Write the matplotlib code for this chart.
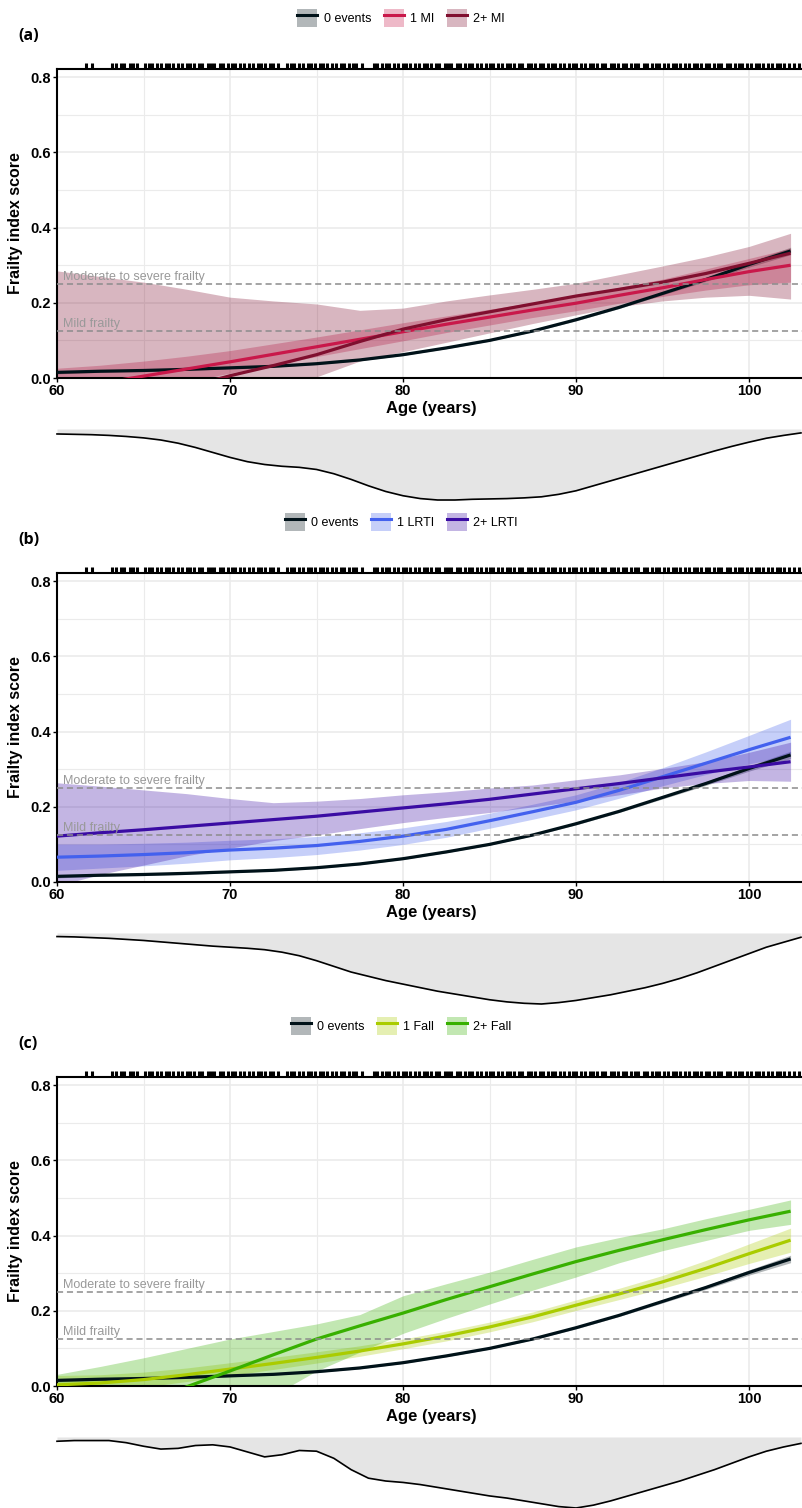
import numpy as np
import matplotlib
matplotlib.use("Agg")
import matplotlib.pyplot as plt
from matplotlib.patches import Patch
from matplotlib.lines import Line2D
from matplotlib.ticker import MultipleLocator, FormatStrFormatter

plt.rcParams['font.family'] = ['Liberation Sans', 'DejaVu Sans']

# fitted curves, read at these ages
ages = [60, 62.5, 65, 67.5, 70, 72.5, 75, 77.5, 80, 82.5, 85, 87.5, 90, 92.5, 95, 97.5, 100, 102.4]

none_fi = [0.015, 0.018, 0.020, 0.023, 0.027, 0.031, 0.038, 0.048, 0.062, 0.080, 0.100, 0.125,
           0.155, 0.188, 0.225, 0.262, 0.302, 0.338]
none_hw = [0.004, 0.003, 0.003, 0.003, 0.002, 0.002, 0.002, 0.002, 0.002, 0.002, 0.002, 0.002,
           0.003, 0.003, 0.004, 0.005, 0.007, 0.010]

# (a) MI
mi1_fi = [-0.030, -0.014, 0.005, 0.024, 0.043, 0.063, 0.083, 0.103, 0.123, 0.143, 0.162, 0.181,
          0.199, 0.220, 0.240, 0.262, 0.283, 0.300]
mi1_hw = [0.056, 0.048, 0.040, 0.034, 0.030, 0.028, 0.026, 0.025, 0.024, 0.022, 0.021, 0.020,
          0.020, 0.021, 0.023, 0.028, 0.035, 0.045]
mi2_fi = [-0.120, -0.090, -0.057, -0.025, 0.006, 0.033, 0.062, 0.097, 0.130, 0.155, 0.176, 0.197,
          0.218, 0.236, 0.255, 0.278, 0.305, 0.332]
mi2_hi = [0.285, 0.270, 0.255, 0.236, 0.215, 0.205, 0.197, 0.180, 0.186, 0.205, 0.221, 0.236,
          0.252, 0.275, 0.298, 0.322, 0.350, 0.385]
mi2_lo = [-0.200, -0.160, -0.120, -0.080, -0.045, -0.020, 0.003, 0.045, 0.070, 0.095, 0.120, 0.145,
          0.168, 0.190, 0.205, 0.215, 0.220, 0.210]

# (b) LRTI
lrti1_fi = [0.066, 0.069, 0.073, 0.078, 0.085, 0.090, 0.097, 0.108, 0.122, 0.140, 0.163, 0.187,
            0.212, 0.244, 0.280, 0.316, 0.352, 0.385]
lrti1_hw = [0.035, 0.032, 0.030, 0.028, 0.026, 0.025, 0.024, 0.023, 0.022, 0.021, 0.020, 0.020,
            0.020, 0.021, 0.024, 0.030, 0.038, 0.048]
lrti2_fi = [0.122, 0.131, 0.139, 0.148, 0.157, 0.166, 0.175, 0.186, 0.197, 0.208, 0.220, 0.234,
            0.248, 0.262, 0.277, 0.292, 0.306, 0.320]
lrti2_hi = [0.264, 0.255, 0.245, 0.235, 0.222, 0.211, 0.215, 0.222, 0.232, 0.240, 0.250, 0.258,
            0.272, 0.285, 0.302, 0.320, 0.345, 0.372]
lrti2_lo = [-0.010, 0.020, 0.045, 0.070, 0.090, 0.110, 0.125, 0.142, 0.158, 0.172, 0.185, 0.200,
            0.215, 0.232, 0.250, 0.262, 0.270, 0.268]

# (c) falls
fall1_fi = [0.003, 0.008, 0.017, 0.030, 0.045, 0.060, 0.076, 0.093, 0.112, 0.133, 0.157, 0.184,
            0.215, 0.245, 0.277, 0.313, 0.352, 0.388]
fall1_hw = [0.025, 0.022, 0.020, 0.018, 0.017, 0.016, 0.015, 0.014, 0.013, 0.013, 0.013, 0.013,
            0.014, 0.015, 0.017, 0.021, 0.026, 0.032]
fall2_fi = [-0.130, -0.090, -0.045, -0.002, 0.040, 0.083, 0.125, 0.160, 0.194, 0.230, 0.264, 0.298,
            0.331, 0.361, 0.389, 0.416, 0.442, 0.465]
fall2_hi = [0.031, 0.052, 0.075, 0.100, 0.125, 0.145, 0.165, 0.190, 0.240, 0.272, 0.303, 0.337,
            0.370, 0.395, 0.418, 0.445, 0.470, 0.495]
fall2_lo = [-0.300, -0.250, -0.200, -0.140, -0.090, -0.025, 0.040, 0.090, 0.140, 0.180, 0.218, 0.255,
            0.290, 0.328, 0.360, 0.387, 0.414, 0.430]

# age distribution (density, scaled to 1) under each panel
dens_ages = [60, 61, 62, 63, 64, 65, 66, 67, 68, 69, 70, 71, 72, 73, 74, 75, 76, 77, 78, 79, 80,
             81, 82, 83, 84, 85, 86, 87, 88, 89, 90, 91, 92, 93, 94, 95, 96, 97, 98, 99, 100,
             101, 102, 103]
dens_a = [0.07, 0.075, 0.08, 0.09, 0.105, 0.125, 0.155, 0.20, 0.26, 0.33, 0.40, 0.46, 0.50, 0.525,
          0.54, 0.57, 0.63, 0.71, 0.80, 0.88, 0.94, 0.98, 1.00, 1.00, 0.99, 0.985, 0.98, 0.97,
          0.955, 0.92, 0.87, 0.80, 0.73, 0.66, 0.59, 0.52, 0.45, 0.38, 0.31, 0.245, 0.185, 0.13,
          0.09, 0.055]
dens_b = [0.05, 0.055, 0.065, 0.075, 0.09, 0.105, 0.125, 0.145, 0.165, 0.185, 0.20, 0.215, 0.235,
          0.27, 0.32, 0.39, 0.47, 0.55, 0.61, 0.67, 0.72, 0.77, 0.82, 0.86, 0.90, 0.94, 0.97, 0.99,
          1.00, 0.98, 0.95, 0.91, 0.87, 0.82, 0.77, 0.71, 0.64, 0.56, 0.47, 0.38, 0.29, 0.20, 0.13,
          0.06]
dens_c = [0.06, 0.05, 0.05, 0.05, 0.08, 0.13, 0.17, 0.16, 0.12, 0.11, 0.14, 0.21, 0.28, 0.25, 0.19,
          0.20, 0.30, 0.46, 0.58, 0.62, 0.64, 0.67, 0.71, 0.75, 0.79, 0.83, 0.86, 0.90, 0.94, 0.98,
          1.00, 0.96, 0.90, 0.83, 0.76, 0.69, 0.62, 0.54, 0.46, 0.37, 0.28, 0.20, 0.14, 0.09]

rug_ages = [61.7, 62.0, 63.2, 63.4, 63.7, 63.9, 64.2, 64.4, 64.6, 65.1, 65.3, 65.5, 65.8, 66.0, 66.3,
            66.5, 66.7, 67.0, 67.2, 67.5, 67.7, 67.9, 68.2, 68.4, 68.7, 68.9, 69.1, 69.4, 69.6, 69.9,
            70.1, 70.3, 70.6, 70.8, 71.1, 71.3, 71.6, 71.8, 72.0, 72.3, 72.5, 72.8, 73.3, 73.5, 73.7,
            74.0, 74.2, 74.5, 74.7, 74.9, 75.2, 75.4, 75.6, 75.9, 76.1, 76.4, 76.6, 76.9, 77.1, 77.3,
            77.6, 78.3, 78.5, 78.8, 79.0, 79.2, 79.5, 79.7, 80.0, 80.2, 80.4, 80.7, 80.9, 81.2, 81.4,
            81.6, 81.9, 82.1, 82.4, 82.6, 82.8, 83.1, 83.3, 83.6, 83.8, 84.0, 84.3, 84.5, 84.8, 85.0,
            85.2, 85.5, 85.7, 86.0, 86.2, 86.4, 86.7, 86.9, 87.2, 87.4, 87.6, 87.9, 88.1, 88.4, 88.6,
            88.8, 89.1, 89.3, 89.6, 89.8, 90.0, 90.3, 90.5, 90.8, 91.0, 91.2, 91.5, 91.7, 92.0, 92.2,
            92.4, 92.7, 92.9, 93.2, 93.4, 93.6, 93.9, 94.1, 94.4, 94.6, 94.8, 95.1, 95.3, 95.6, 95.8,
            96.0, 96.3, 96.5, 96.8, 97.0, 97.2, 97.5, 97.7, 98.0, 98.2, 98.4, 98.7, 98.9, 99.2, 99.4,
            99.6, 99.9, 100.1, 100.4, 100.6, 100.8, 101.1, 101.3, 101.6, 101.8, 102.0, 102.3, 102.6,
            102.9]

thresholds = [0.25, 0.125]
threshold_labels = ["Moderate to severe frailty", "Mild frailty"]

NONE_COL = "#001219"
X_MAX = 103.06
W, H = 802, 1508
STEP = 504 / H

fig = plt.figure(figsize=(W / 100, H / 100), dpi=100)


def draw_panel(k, tag, groups, dens):
    off = k * STEP

    ax = fig.add_axes([57 / W, 1 - 378 / H - off, 745 / W, 309 / H])
    ax.set_xlim(60, X_MAX)
    ax.set_ylim(0, 0.822)

    ax.xaxis.set_major_locator(MultipleLocator(10))
    ax.xaxis.set_minor_locator(MultipleLocator(5))
    ax.yaxis.set_major_locator(MultipleLocator(0.2))
    ax.yaxis.set_minor_locator(MultipleLocator(0.1))
    ax.yaxis.set_major_formatter(FormatStrFormatter('%.1f'))
    ax.grid(which='major', color='#EBEBEB', lw=1.2)
    ax.grid(which='minor', color='#EBEBEB', lw=0.8)
    ax.set_axisbelow(True)

    for side in ['left', 'bottom', 'top']:
        ax.spines[side].set_linewidth(1.5)
        ax.spines[side].set_color('black')
    ax.spines['right'].set_visible(False)

    ax.tick_params(which='major', length=3, width=1, labelsize=10.5, pad=1.5, colors='black')
    ax.tick_params(which='minor', length=0)
    for lab in ax.get_xticklabels() + ax.get_yticklabels():
        lab.set_fontweight('bold')

    for y, txt in zip(thresholds, threshold_labels):
        ax.axhline(y, color='#8C8C8C', lw=1.1, dashes=(4, 2.5), zorder=4)
        ax.text(60.35, y + 0.004, txt, color='#999999', fontsize=9, va='bottom', zorder=4)

    # ribbons first, then lines
    for name, fi, lo, hi, col in groups:
        ax.fill_between(ages, lo, hi, color=col, alpha=0.3, lw=0, zorder=2)
    for name, fi, lo, hi, col in groups:
        ax.plot(ages, fi, color=col, lw=2.3, zorder=3, solid_capstyle='butt')

    ax.vlines(rug_ages, 1.0, 1.02, transform=ax.get_xaxis_transform(), color='black',
              lw=2.2, clip_on=False)

    ax.set_xlabel("Age (years)", fontsize=12, fontweight='bold')
    ax.xaxis.set_label_coords(0.502, -0.075)
    ax.set_ylabel("Frailty index score", fontsize=11.5, fontweight='bold')
    ax.yaxis.set_label_coords(-0.045, 0.5)

    handles = [(Patch(facecolor=col, alpha=0.3, lw=0), Line2D([], [], color=col, lw=2.2))
               for name, fi, lo, hi, col in groups]
    labels = [g[0] for g in groups]
    fig.legend(handles, labels, loc='center', bbox_to_anchor=(0.5, 1 - 18 / H - off), ncol=3,
               frameon=False, handlelength=1.6, handleheight=1.9,
               handletextpad=0.5, columnspacing=1.0,
               prop={'family': ['Liberation Sans Narrow', 'Liberation Sans'], 'size': 9})

    fig.text(18 / W, 1 - 36 / H - off, tag, fontsize=11.5, fontweight='bold',
             family=['Open Sans', 'DejaVu Sans'], va='center', ha='left')

    axd = fig.add_axes([57 / W, 1 - 500 / H - off, 745 / W, 71 / H])
    axd.fill_between(dens_ages, 0, dens, color='#E5E5E5', lw=0)
    axd.plot(dens_ages, dens, color='black', lw=1.2, clip_on=False)
    axd.set_xlim(60, X_MAX)
    axd.set_ylim(1.0, 0)
    axd.axis('off')


def none_group():
    fi = np.array(none_fi)
    hw = np.array(none_hw)
    return ("0 events", fi, fi - hw, fi + hw, NONE_COL)


def sym_group(name, fi, hw, col):
    fi = np.array(fi)
    hw = np.array(hw)
    return (name, fi, fi - hw, fi + hw, col)


draw_panel(0, "(a)", [
    none_group(),
    sym_group("1 MI", mi1_fi, mi1_hw, "#C9184A"),
    ("2+ MI", mi2_fi, mi2_lo, mi2_hi, "#800F2F"),
], dens_a)

draw_panel(1, "(b)", [
    none_group(),
    sym_group("1 LRTI", lrti1_fi, lrti1_hw, "#4361EE"),
    ("2+ LRTI", lrti2_fi, lrti2_lo, lrti2_hi, "#3A0CA3"),
], dens_b)

draw_panel(2, "(c)", [
    none_group(),
    sym_group("1 Fall", fall1_fi, fall1_hw, "#AACC00"),
    ("2+ Fall", fall2_fi, fall2_lo, fall2_hi, "#38B000"),
], dens_c)

fig.savefig("out.png", dpi=100)
